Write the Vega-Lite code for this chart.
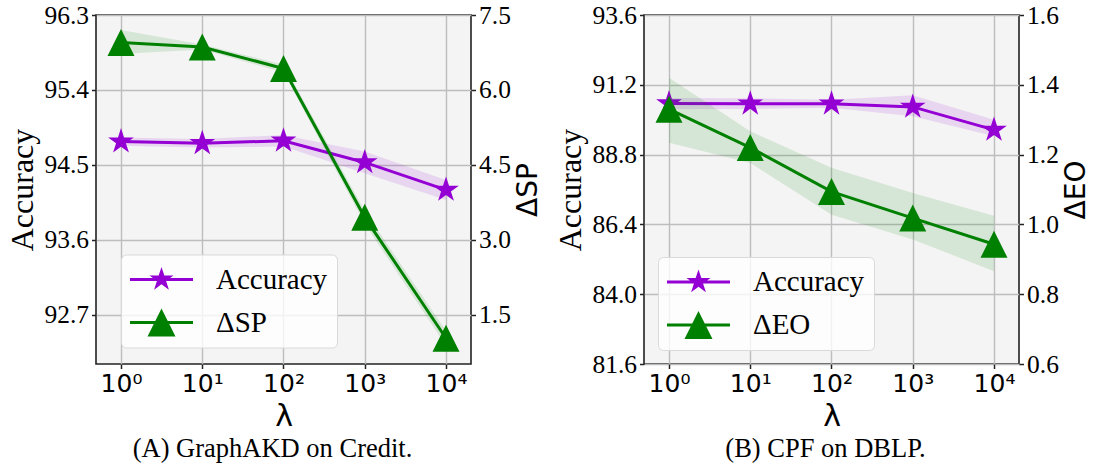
{
  "$schema": "https://vega.github.io/schema/vega-lite/v6.json",
  "background": "white",
  "padding": {"left": 6, "right": 0, "top": 2, "bottom": 0},
  "spacing": 10,
  "config": {
    "view": {"fill": "#f4f4f4", "stroke": "#222222", "strokeWidth": 1.6},
    "axis": {"domain": false, "tickColor": "#222222", "tickSize": 4.5, "tickWidth": 1.5, "labelColor": "black", "labelPadding": 3, "gridColor": "#bdbdbd", "gridWidth": 1.4, "titleColor": "black", "titleFontWeight": "normal", "labelFlush": false, "labelOverlap": false},
    "legend": {"title": null, "orient": "none", "symbolSize": 3969, "symbolStrokeWidth": 0, "symbolOpacity": 1, "labelFont": "Liberation Serif", "labelFontSize": 29, "labelColor": "black", "labelOffset": 23, "padding": 9, "rowPadding": 11, "clipHeight": 32, "fillColor": "rgba(255,255,255,0.8)", "strokeColor": "#d9d9d9", "cornerRadius": 5},
    "title": {"font": "Liberation Serif", "fontSize": 26.5, "fontWeight": "normal", "color": "black", "orient": "bottom", "offset": 4}
  },
  "resolve": {"scale": {"color": "independent", "shape": "independent"}, "legend": {"color": "independent", "shape": "independent"}},
  "datasets": {
    "credit": [
      {"lambda": 1, "acc": 94.78, "acc_lo": 94.73, "acc_hi": 94.83, "d": 6.95, "d_lo": 6.72, "d_hi": 7.2},
      {"lambda": 10, "acc": 94.76, "acc_lo": 94.71, "acc_hi": 94.81, "d": 6.86, "d_lo": 6.81, "d_hi": 6.91},
      {"lambda": 100, "acc": 94.79, "acc_lo": 94.72, "acc_hi": 94.86, "d": 6.43, "d_lo": 6.35, "d_hi": 6.51},
      {"lambda": 1000, "acc": 94.53, "acc_lo": 94.4, "acc_hi": 94.66, "d": 3.45, "d_lo": 3.32, "d_hi": 3.58},
      {"lambda": 10000, "acc": 94.2, "acc_lo": 94.08, "acc_hi": 94.32, "d": 1.03, "d_lo": 0.88, "d_hi": 1.18}
    ],
    "dblp": [
      {"lambda": 1, "acc": 90.56, "acc_lo": 90.36, "acc_hi": 90.75, "d": 1.33, "d_lo": 1.234, "d_hi": 1.42},
      {"lambda": 10, "acc": 90.55, "acc_lo": 90.37, "acc_hi": 90.74, "d": 1.22, "d_lo": 1.176, "d_hi": 1.267},
      {"lambda": 100, "acc": 90.55, "acc_lo": 90.41, "acc_hi": 90.69, "d": 1.094, "d_lo": 1.028, "d_hi": 1.162},
      {"lambda": 1000, "acc": 90.44, "acc_lo": 90.12, "acc_hi": 90.84, "d": 1.018, "d_lo": 0.957, "d_hi": 1.09},
      {"lambda": 10000, "acc": 89.65, "acc_lo": 89.43, "acc_hi": 90.0, "d": 0.943, "d_lo": 0.866, "d_hi": 1.025}
    ]
  },
  "hconcat": [
    {
      "width": 375, "height": 349,
      "data": {"name": "credit"},
      "title": {"text": "(A) GraphAKD on Credit.", "dx": -11},
      "encoding": {
        "x": {"field": "lambda", "type": "quantitative", "scale": {"type": "log", "domain": [0.4924, 20309], "nice": false},
          "axis": {"values": [1, 10, 100, 1000, 10000], "labelExpr": "'10' + ['⁰','¹','²','³','⁴'][round(log(datum.value)/LN10)]", "labelFont": "DejaVu Sans", "labelFontSize": 25, "title": "λ", "titleFont": "DejaVu Sans", "titleFontSize": 30, "titlePadding": 5, "grid": true}}
      },
      "layer": [
        {
          "layer": [
            {"mark": {"type": "area", "color": "#9400d3", "opacity": 0.12},
             "encoding": {"y": {"field": "acc_lo", "type": "quantitative", "scale": {"domain": [92.11, 96.3], "nice": false, "zero": false}, "axis": {"orient": "left", "values": [92.7, 93.6, 94.5, 95.4, 96.3], "format": ".1f", "title": "Accuracy", "titleFont": "Liberation Serif", "titleFontSize": 32, "labelFont": "Liberation Serif", "labelFontSize": 25.5, "grid": true}}, "y2": {"field": "acc_hi"}}},
            {"mark": {"type": "line", "color": "#9400d3", "strokeWidth": 3},
             "encoding": {"y": {"field": "acc", "type": "quantitative", "scale": {"domain": [92.11, 96.3], "nice": false, "zero": false}, "axis": {"orient": "left", "values": [92.7, 93.6, 94.5, 95.4, 96.3], "format": ".1f", "title": "Accuracy", "titleFont": "Liberation Serif", "titleFontSize": 32, "labelFont": "Liberation Serif", "labelFontSize": 25.5, "grid": true}}}},
            {"mark": {"type": "point", "filled": true, "opacity": 1, "color": "#9400d3", "size": 729, "shape": "M0,-1L0.2245,-0.309L0.9511,-0.309L0.3633,0.118L0.5878,0.809L0,0.382L-0.5878,0.809L-0.3633,0.118L-0.9511,-0.309L-0.2245,-0.309Z"},
             "encoding": {"y": {"field": "acc", "type": "quantitative", "scale": {"domain": [92.11, 96.3], "nice": false, "zero": false}, "axis": {"orient": "left", "values": [92.7, 93.6, 94.5, 95.4, 96.3], "format": ".1f", "title": "Accuracy", "titleFont": "Liberation Serif", "titleFontSize": 32, "labelFont": "Liberation Serif", "labelFontSize": 25.5, "grid": true}}}}
          ]
        },
        {
          "layer": [
            {"mark": {"type": "area", "color": "#008000", "opacity": 0.12},
             "encoding": {"y": {"field": "d_lo", "type": "quantitative", "scale": {"domain": [0.515, 7.5], "nice": false, "zero": false}, "axis": {"orient": "right", "values": [1.5, 3, 4.5, 6, 7.5], "format": ".1f", "title": "ΔSP", "titleFont": "DejaVu Sans", "titleFontSize": 28, "titleAngle": 270, "titleBaseline": "top", "labelFont": "Liberation Serif", "labelFontSize": 25.5, "grid": false}}, "y2": {"field": "d_hi"}}},
            {"mark": {"type": "line", "color": "#008000", "strokeWidth": 3},
             "encoding": {"y": {"field": "d", "type": "quantitative", "scale": {"domain": [0.515, 7.5], "nice": false, "zero": false}, "axis": {"orient": "right", "values": [1.5, 3, 4.5, 6, 7.5], "format": ".1f", "title": "ΔSP", "titleFont": "DejaVu Sans", "titleFontSize": 28, "titleAngle": 270, "titleBaseline": "top", "labelFont": "Liberation Serif", "labelFontSize": 25.5, "grid": false}}}},
            {"mark": {"type": "point", "filled": true, "opacity": 1, "color": "#008000", "size": 729, "shape": "M0,-1L1,1L-1,1Z"},
             "encoding": {"y": {"field": "d", "type": "quantitative", "scale": {"domain": [0.515, 7.5], "nice": false, "zero": false}, "axis": {"orient": "right", "values": [1.5, 3, 4.5, 6, 7.5], "format": ".1f", "title": "ΔSP", "titleFont": "DejaVu Sans", "titleFontSize": 28, "titleAngle": 270, "titleBaseline": "top", "labelFont": "Liberation Serif", "labelFontSize": 25.5, "grid": false}}}}
          ]
        },
        {
          "transform": [{"filter": "false"}],
          "mark": {"type": "point", "filled": true},
          "encoding": {
            "color": {"datum": "Accuracy", "type": "nominal", "scale": {"domain": ["Accuracy", "ΔSP"], "range": ["#9400d3", "#008000"]}, "legend": {"legendX": 25, "legendY": 239.5}},
            "shape": {"datum": "Accuracy", "type": "nominal", "scale": {"domain": ["Accuracy", "ΔSP"], "range": ["M0,-0.4L0.0898,-0.1236L0.3804,-0.1236L0.1453,0.0472L0.2351,0.3236L0,0.1528L-0.2351,0.3236L-0.1453,0.0472L-0.3804,-0.1236L-0.0898,-0.1236ZM-1,-0.048L1,-0.048L1,0.048L-1,0.048Z", "M0,-0.444L0.444,0.444L-0.444,0.444ZM-1,-0.048L1,-0.048L1,0.048L-1,0.048Z"]}, "legend": {"legendX": 25, "legendY": 239.5}}
          }
        }
      ],
      "resolve": {"scale": {"y": "independent"}}
    },
    {
      "width": 375, "height": 349,
      "data": {"name": "dblp"},
      "title": {"text": "(B) CPF on DBLP.", "dx": -6},
      "encoding": {
        "x": {"field": "lambda", "type": "quantitative", "scale": {"type": "log", "domain": [0.4924, 20309], "nice": false},
          "axis": {"values": [1, 10, 100, 1000, 10000], "labelExpr": "'10' + ['⁰','¹','²','³','⁴'][round(log(datum.value)/LN10)]", "labelFont": "DejaVu Sans", "labelFontSize": 25, "title": "λ", "titleFont": "DejaVu Sans", "titleFontSize": 30, "titlePadding": 5, "grid": true}}
      },
      "layer": [
        {
          "layer": [
            {"mark": {"type": "area", "color": "#9400d3", "opacity": 0.12},
             "encoding": {"y": {"field": "acc_lo", "type": "quantitative", "scale": {"domain": [81.6, 93.6], "nice": false, "zero": false}, "axis": {"orient": "left", "values": [81.6, 84.0, 86.4, 88.8, 91.2, 93.6], "format": ".1f", "title": "Accuracy", "titleFont": "Liberation Serif", "titleFontSize": 32, "labelFont": "Liberation Serif", "labelFontSize": 25.5, "grid": true}}, "y2": {"field": "acc_hi"}}},
            {"mark": {"type": "line", "color": "#9400d3", "strokeWidth": 3},
             "encoding": {"y": {"field": "acc", "type": "quantitative", "scale": {"domain": [81.6, 93.6], "nice": false, "zero": false}, "axis": {"orient": "left", "values": [81.6, 84.0, 86.4, 88.8, 91.2, 93.6], "format": ".1f", "title": "Accuracy", "titleFont": "Liberation Serif", "titleFontSize": 32, "labelFont": "Liberation Serif", "labelFontSize": 25.5, "grid": true}}}},
            {"mark": {"type": "point", "filled": true, "opacity": 1, "color": "#9400d3", "size": 729, "shape": "M0,-1L0.2245,-0.309L0.9511,-0.309L0.3633,0.118L0.5878,0.809L0,0.382L-0.5878,0.809L-0.3633,0.118L-0.9511,-0.309L-0.2245,-0.309Z"},
             "encoding": {"y": {"field": "acc", "type": "quantitative", "scale": {"domain": [81.6, 93.6], "nice": false, "zero": false}, "axis": {"orient": "left", "values": [81.6, 84.0, 86.4, 88.8, 91.2, 93.6], "format": ".1f", "title": "Accuracy", "titleFont": "Liberation Serif", "titleFontSize": 32, "labelFont": "Liberation Serif", "labelFontSize": 25.5, "grid": true}}}}
          ]
        },
        {
          "layer": [
            {"mark": {"type": "area", "color": "#008000", "opacity": 0.12},
             "encoding": {"y": {"field": "d_lo", "type": "quantitative", "scale": {"domain": [0.6, 1.6], "nice": false, "zero": false}, "axis": {"orient": "right", "values": [0.6, 0.8, 1.0, 1.2, 1.4, 1.6], "format": ".1f", "title": "ΔEO", "titleFont": "DejaVu Sans", "titleFontSize": 28, "titleAngle": 270, "titleBaseline": "top", "labelFont": "Liberation Serif", "labelFontSize": 25.5, "grid": false}}, "y2": {"field": "d_hi"}}},
            {"mark": {"type": "line", "color": "#008000", "strokeWidth": 3},
             "encoding": {"y": {"field": "d", "type": "quantitative", "scale": {"domain": [0.6, 1.6], "nice": false, "zero": false}, "axis": {"orient": "right", "values": [0.6, 0.8, 1.0, 1.2, 1.4, 1.6], "format": ".1f", "title": "ΔEO", "titleFont": "DejaVu Sans", "titleFontSize": 28, "titleAngle": 270, "titleBaseline": "top", "labelFont": "Liberation Serif", "labelFontSize": 25.5, "grid": false}}}},
            {"mark": {"type": "point", "filled": true, "opacity": 1, "color": "#008000", "size": 729, "shape": "M0,-1L1,1L-1,1Z"},
             "encoding": {"y": {"field": "d", "type": "quantitative", "scale": {"domain": [0.6, 1.6], "nice": false, "zero": false}, "axis": {"orient": "right", "values": [0.6, 0.8, 1.0, 1.2, 1.4, 1.6], "format": ".1f", "title": "ΔEO", "titleFont": "DejaVu Sans", "titleFontSize": 28, "titleAngle": 270, "titleBaseline": "top", "labelFont": "Liberation Serif", "labelFontSize": 25.5, "grid": false}}}}
          ]
        },
        {
          "transform": [{"filter": "false"}],
          "mark": {"type": "point", "filled": true},
          "encoding": {
            "color": {"datum": "Accuracy", "type": "nominal", "scale": {"domain": ["Accuracy", "ΔEO"], "range": ["#9400d3", "#008000"]}, "legend": {"legendX": 14, "legendY": 242}},
            "shape": {"datum": "Accuracy", "type": "nominal", "scale": {"domain": ["Accuracy", "ΔEO"], "range": ["M0,-0.4L0.0898,-0.1236L0.3804,-0.1236L0.1453,0.0472L0.2351,0.3236L0,0.1528L-0.2351,0.3236L-0.1453,0.0472L-0.3804,-0.1236L-0.0898,-0.1236ZM-1,-0.048L1,-0.048L1,0.048L-1,0.048Z", "M0,-0.444L0.444,0.444L-0.444,0.444ZM-1,-0.048L1,-0.048L1,0.048L-1,0.048Z"]}, "legend": {"legendX": 14, "legendY": 242}}
          }
        }
      ],
      "resolve": {"scale": {"y": "independent"}}
    }
  ]
}
